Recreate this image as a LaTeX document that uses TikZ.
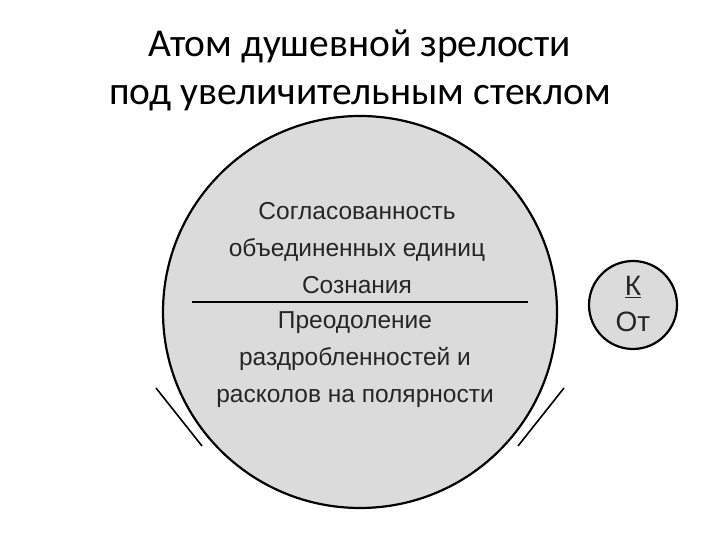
\documentclass[tikz,border=0pt]{standalone}
\usepackage{fontspec}
\usetikzlibrary{shapes.geometric}
\setmainfont{Liberation Sans}
\newfontfamily\titlefont{Carlito}
\begin{document}
\begin{tikzpicture}[x=1pt,y=1pt,
  lbl/.style={font=\fontsize{24.5}{37}\selectfont, color=black!85, align=center},
  ring/.style={draw=black, line width=2.2pt, fill=black!14}]
\useasboundingbox (0,0) rectangle (720,540);
\node[font=\titlefont\fontsize{39.5}{48}\selectfont, align=center] (title) at (360,470) {Атом душевной зрелости\\под увеличительным стеклом};
\node[ring, ellipse, minimum width=394, minimum height=392, inner sep=0] (big) at (360,228) {};
\coordinate (l1) at (156,152); \coordinate (l2) at (202,94);
\coordinate (r1) at (564,152); \coordinate (r2) at (518,94);
\draw[line width=1.6pt] (l1) -- (l2);
\draw[line width=1.6pt] (r1) -- (r2);
\coordinate (hl) at (192,238); \coordinate (hr) at (528,238);
\draw[line width=1.4pt] (hl) -- (hr);
\node[lbl] (top) at (357,292) {Согласованность\\объединенных единиц\\Сознания};
\node[lbl] (bot) at (355,180) {Преодоление\\раздробленностей и\\расколов на полярности};
\node[ring, circle, minimum size=88, inner sep=0] (small) at (633,235) {};
\node[font=\fontsize{28}{36}\selectfont, color=black!85, align=center] (ko) at (633,236) {\underline{К}\\От};
\end{tikzpicture}
\end{document}
